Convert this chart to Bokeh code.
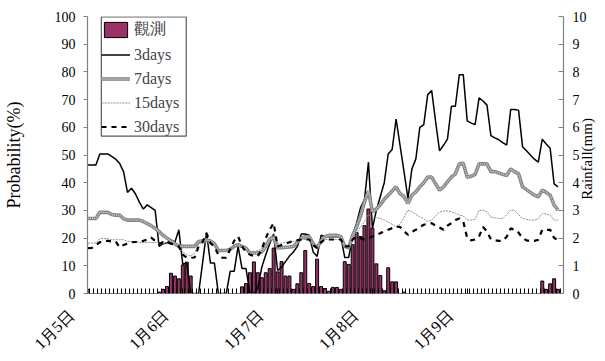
import math
from bokeh.plotting import figure
from bokeh.models import Range1d, LinearAxis, FixedTicker, Legend, LegendItem
from bokeh.embed import file_html
from bokeh.resources import INLINE

# ---------------- data ----------------
hours = list(range(120))
hours_per_day = 24
day_names = ["1月5日", "1月6日", "1月7日", "1月8日", "1月9日"]
prob_ticks = [0, 10, 20, 30, 40, 50, 60, 70, 80, 90, 100]
rain_ticks = [0, 1, 2, 3, 4, 5, 6, 7, 8, 9, 10]

rain = [0.15, 0, 0, 0, 0, 0, 0, 0, 0, 0,
        0, 0, 0, 0, 0, 0, 0, 0, 0.05, 0.15,
        0.25, 0.73, 0.63, 0.53, 1.03, 1.13, 0.63, 0, 0, 0,
        0, 0, 0, 0, 0, 0, 0, 0, 0, 0.24,
        0.36, 0.75, 1.14, 0.75, 0.57, 0.75, 0.9, 1.64, 0.78, 1.15,
        0.63, 0.63, 0.15, 0.35, 0.75, 1.55, 0.36, 0.25, 1.24, 0.25,
        0.18, 0.08, 0.22, 0.22, 0.15, 1.15, 1.05, 1.76, 2.2, 2.06,
        2.45, 3.05, 2.36, 1.07, 0.65, 0.1, 0.93, 0.42, 0.42, 0,
        0.05, 0, 0, 0, 0, 0, 0, 0, 0, 0,
        0, 0, 0, 0, 0, 0, 0, 0, 0, 0,
        0, 0, 0, 0, 0, 0, 0, 0, 0, 0,
        0, 0, 0, 0, 0, 0.45, 0.15, 0.35, 0.53, 0.15]

p3 = [46.4, 46.4, 46.4, 50.4, 50.4, 50.4, 49.5, 48.5, 47, 44,
      36.5, 38, 36, 33, 30.5, 32, 31, 30, 17, 18,
      18.2, 19.4, 18.5, 23, 10.5, 11, 0, 0, 0, 11,
      22, 11, 11, 0, 0, 0, 8, 8, 17, 9,
      9, 0, 0, 2, 9.5, 14, 18, 21.5, 8.3, 9.5,
      11.5, 13.5, 15, 17, 21.5, 21.5, 21, 15, 13.4, 21,
      20.5, 20.5, 20.5, 20.5, 20.5, 13, 13, 21, 25.5, 31,
      34, 47.4, 23.5, 30, 35, 40, 50.4, 52, 63, 53.5,
      44, 34.3, 45, 48.6, 60, 61, 71.8, 73.3, 62, 51.5,
      53.5, 55.7, 67.6, 67.6, 79, 79, 62.3, 61.5, 61, 70.6,
      69.5, 68, 57, 56.2, 55.5, 54.5, 53.6, 66.4, 66.4, 66.2,
      53, 51.5, 50, 48.5, 47.4, 55.7, 54, 52.4, 39.6, 38.5]

p7 = [27.1, 27.1, 27.1, 29.3, 29.3, 29.3, 28.5, 28.3, 28.3, 27,
      26.5, 26.5, 26.5, 26.5, 26, 25.2, 24.5, 23.5, 22.4, 21,
      20, 19, 18, 17, 17, 17, 17, 17, 18.8, 19,
      19.4, 19, 18, 15.5, 15.5, 15.5, 16, 17, 17.6, 17,
      16.4, 14.6, 14.6, 14.6, 15, 17, 19.5, 20.2, 16.4, 16.5,
      16.7, 16.8, 17, 18.5, 20, 20.5, 20.5, 18, 16.5, 19,
      20.5, 21, 21, 21, 20.5, 17, 16.5, 21, 24, 28,
      33, 37, 29.5, 30.5, 32, 34, 35.5, 37, 38.5, 36,
      35, 32.5, 35.5, 36.7, 38.5, 40, 42, 42, 39.6, 37.3,
      38.5, 40.3, 42, 43.2, 46.8, 47, 42, 42.3, 43, 46.8,
      46.8, 46.8, 44, 44, 43.5, 43, 42.6, 45, 44, 43.2,
      38.5, 37.5, 36.5, 35.5, 34.9, 37.3, 36.5, 35.5, 31.9, 30.1]

p15 = [18.2, 18.2, 18.2, 19.8, 19.8, 19.8, 19.4, 19.4, 19.4, 19.4,
       18.8, 18.8, 18.8, 18.4, 18.4, 18.4, 18.4, 18.4, 18, 18,
       18, 18, 17.2, 17.2, 15, 14, 13.5, 14.5, 18, 18.2,
       18.5, 17.8, 17.5, 16, 15.2, 15.2, 16, 17, 17.2, 16.5,
       15.8, 15.2, 15.2, 15.5, 16.5, 18, 20.5, 21, 18.2, 18.2,
       18.4, 18.6, 18.8, 19, 19.5, 19.5, 19.5, 18, 17, 18.5,
       19.5, 19.5, 19.5, 19.5, 19.5, 17.5, 17.5, 19.5, 22, 24,
       26, 28.5, 27.7, 27.4, 27.1, 26.5, 25.8, 25, 24, 25,
       27.5, 30.1, 29.5, 28.5, 27.7, 27, 26, 26.5, 28, 29.5,
       29.8, 29.8, 29.5, 29, 28.3, 28, 26.5, 26.5, 26.8, 30,
       30.1, 29.5, 27.6, 27.3, 27.1, 27, 28.5, 30.1, 30, 28.5,
       27.1, 26.8, 26.5, 26.5, 27, 28.9, 28.7, 28.3, 26.5, 26.5]

p30 = [16.4, 16.5, 17.5, 18.5, 19, 19, 18.8, 18.8, 16.7, 17.5,
       18, 18.5, 18.6, 18.6, 19, 19.5, 20.2, 19, 17.9, 18.6,
       18.5, 18, 17.5, 17, 14, 12.9, 12.9, 13, 17, 18.6,
       21.8, 18.2, 17, 14, 12.9, 12.9, 16, 19, 20.6, 17,
       15, 14, 13.5, 13.5, 16, 20, 23, 25.4, 17, 17.5,
       18, 18.5, 19, 19.2, 19.5, 19.5, 19.5, 17.5, 16.5, 18.5,
       19.5, 19.5, 19.5, 19.5, 19.5, 17, 17, 19.5, 20.5, 20,
       19.5, 20, 20.6, 21, 21.8, 22.4, 23, 23.6, 24.2, 24,
       22.5, 21.2, 22.3, 23, 24, 24.8, 25.2, 25.4, 24.5, 23.8,
       23, 24.5, 25.4, 26.5, 27.1, 26, 20, 19.2, 19.5, 20.6,
       24, 22.4, 19.5, 19.2, 19, 19, 20.5, 23.5, 23, 22,
       20, 19.2, 18.9, 19, 19.4, 23, 23, 23, 20, 19.4]

# ---------------- style / layout ----------------
FONT = "Liberation Serif"
AXIS_GRAY = "#808080"
BOX_GRAY = "#5a5a5a"
PAD = "\u00a0" * 6            # pushes rotated day labels down-left of their tick
RIGHT_LABEL_LEAD = "\u00a0" * 25  # lifts the right axis title from the axis start to mid-height

X0, X1 = -0.125, 120.375          # category axis extent, 4 px per hour
PX_PER_X, PX_PER_Y = 4.0, 2.8
LEG_X, LEG_BOTTOM, LEG_W = 14, 159, 86   # legend box, px from frame bottom-left

p = figure(width=605, height=361, output_backend="svg", toolbar_location=None,
           x_range=Range1d(X0, X1), y_range=Range1d(0, 100),
           min_border_left=84, min_border_right=39, min_border_top=16,
           min_border_bottom=65)
p.outline_line_color = None
p.xgrid.visible = False
p.ygrid.visible = False
p.background_fill_color = "white"
p.border_fill_color = "white"
p.extra_y_ranges = {"rain": Range1d(0, 10)}

bars = p.vbar(x=hours, top=rain, bottom=0, width=0.75, y_range_name="rain",
              fill_color="#993366", line_color="black", line_width=1.0)
r3 = p.line(hours, p3, line_color="black", line_width=1.5)
r7a = p.line(hours, p7, line_color="#858585", line_width=3.6)
r7b = p.line(hours, p7, line_color="#d4d4d4", line_width=1.3, line_dash="1 1")
r15 = p.line(hours, p15, line_color="#8f8f8f", line_width=1.0, line_dash="2 1")
r30 = p.line(hours, p30, line_color="black", line_width=2.2, line_dash="5 5")

# frame drawn around the legend (the legend's own border does not show in the svg output)
box_left = X0 + LEG_X / PX_PER_X
box_right = X0 + (LEG_X + LEG_W) / PX_PER_X
box_bottom = LEG_BOTTOM / PX_PER_Y
p.quad(left=[box_left], right=[box_right], bottom=[box_bottom], top=[99.9],
       fill_color="white", fill_alpha=1.0, line_color=BOX_GRAY, line_width=1.2)

# x axis: hourly tick marks, rotated day labels
xa = p.xaxis[0]
xa.ticker = FixedTicker(ticks=[d * hours_per_day for d in range(len(day_names))],
                        minor_ticks=[h + 0.5 for h in hours])
xa.major_label_overrides = {d * hours_per_day: name + PAD for d, name in enumerate(day_names)}
xa.major_label_orientation = math.pi / 4
xa.major_label_standoff = 2
xa.major_label_text_font = FONT
xa.major_label_text_font_size = "16px"
xa.major_label_text_color = "black"
xa.axis_line_color = AXIS_GRAY
xa.axis_line_width = 1.2
xa.major_tick_in = 5
xa.major_tick_out = 0
xa.minor_tick_in = 5
xa.minor_tick_out = 0
xa.major_tick_line_color = "black"
xa.minor_tick_line_color = "black"

# left axis
ya = p.yaxis[0]
ya.ticker = FixedTicker(ticks=prob_ticks)
ya.axis_line_color = AXIS_GRAY
ya.axis_line_width = 1.2
ya.major_tick_line_color = AXIS_GRAY
ya.major_tick_out = 4
ya.major_tick_in = 0
ya.minor_tick_line_color = None
ya.major_label_standoff = 8
ya.major_label_text_font = FONT
ya.major_label_text_font_size = "14px"
ya.major_label_text_color = "black"
ya.axis_label = "Probability(%)"
ya.axis_label_text_font = FONT
ya.axis_label_text_font_size = "18px"
ya.axis_label_text_font_style = "normal"
ya.axis_label_text_color = "black"
ya.axis_label_standoff = 28

# right axis
ra = LinearAxis(y_range_name="rain", ticker=FixedTicker(ticks=rain_ticks))
ra.axis_line_color = AXIS_GRAY
ra.axis_line_width = 1.2
ra.major_tick_line_color = AXIS_GRAY
ra.major_tick_in = 5
ra.major_tick_out = 0
ra.minor_tick_line_color = None
ra.major_label_standoff = 9
ra.major_label_text_font = FONT
ra.major_label_text_font_size = "14px"
ra.major_label_text_color = "black"
ra.axis_label = RIGHT_LABEL_LEAD + "Rainfall(mm)"
ra.axis_label_text_font = FONT
ra.axis_label_text_font_size = "15px"
ra.axis_label_text_font_style = "normal"
ra.axis_label_text_color = "black"
ra.axis_label_standoff = -3
ra.axis_label_orientation = math.pi / 2   # read bottom-to-top, as in the reference
ra.axis_label_align = "start"
p.add_layout(ra, "right")

legend = Legend(items=[LegendItem(label="觀測", renderers=[bars]),
                       LegendItem(label="3days", renderers=[r3]),
                       LegendItem(label="7days", renderers=[r7a, r7b]),
                       LegendItem(label="15days", renderers=[r15]),
                       LegendItem(label="30days", renderers=[r30])],
                location=(LEG_X, LEG_BOTTOM - 2), orientation="vertical",
                border_line_color=None, background_fill_alpha=0.0,
                padding=3, spacing=5, margin=0,
                glyph_width=29, glyph_height=19, label_height=19, label_standoff=4,
                label_text_font=FONT, label_text_font_size="16px")
p.add_layout(legend, "center")

open("out.html", "w").write(file_html(p, INLINE))
